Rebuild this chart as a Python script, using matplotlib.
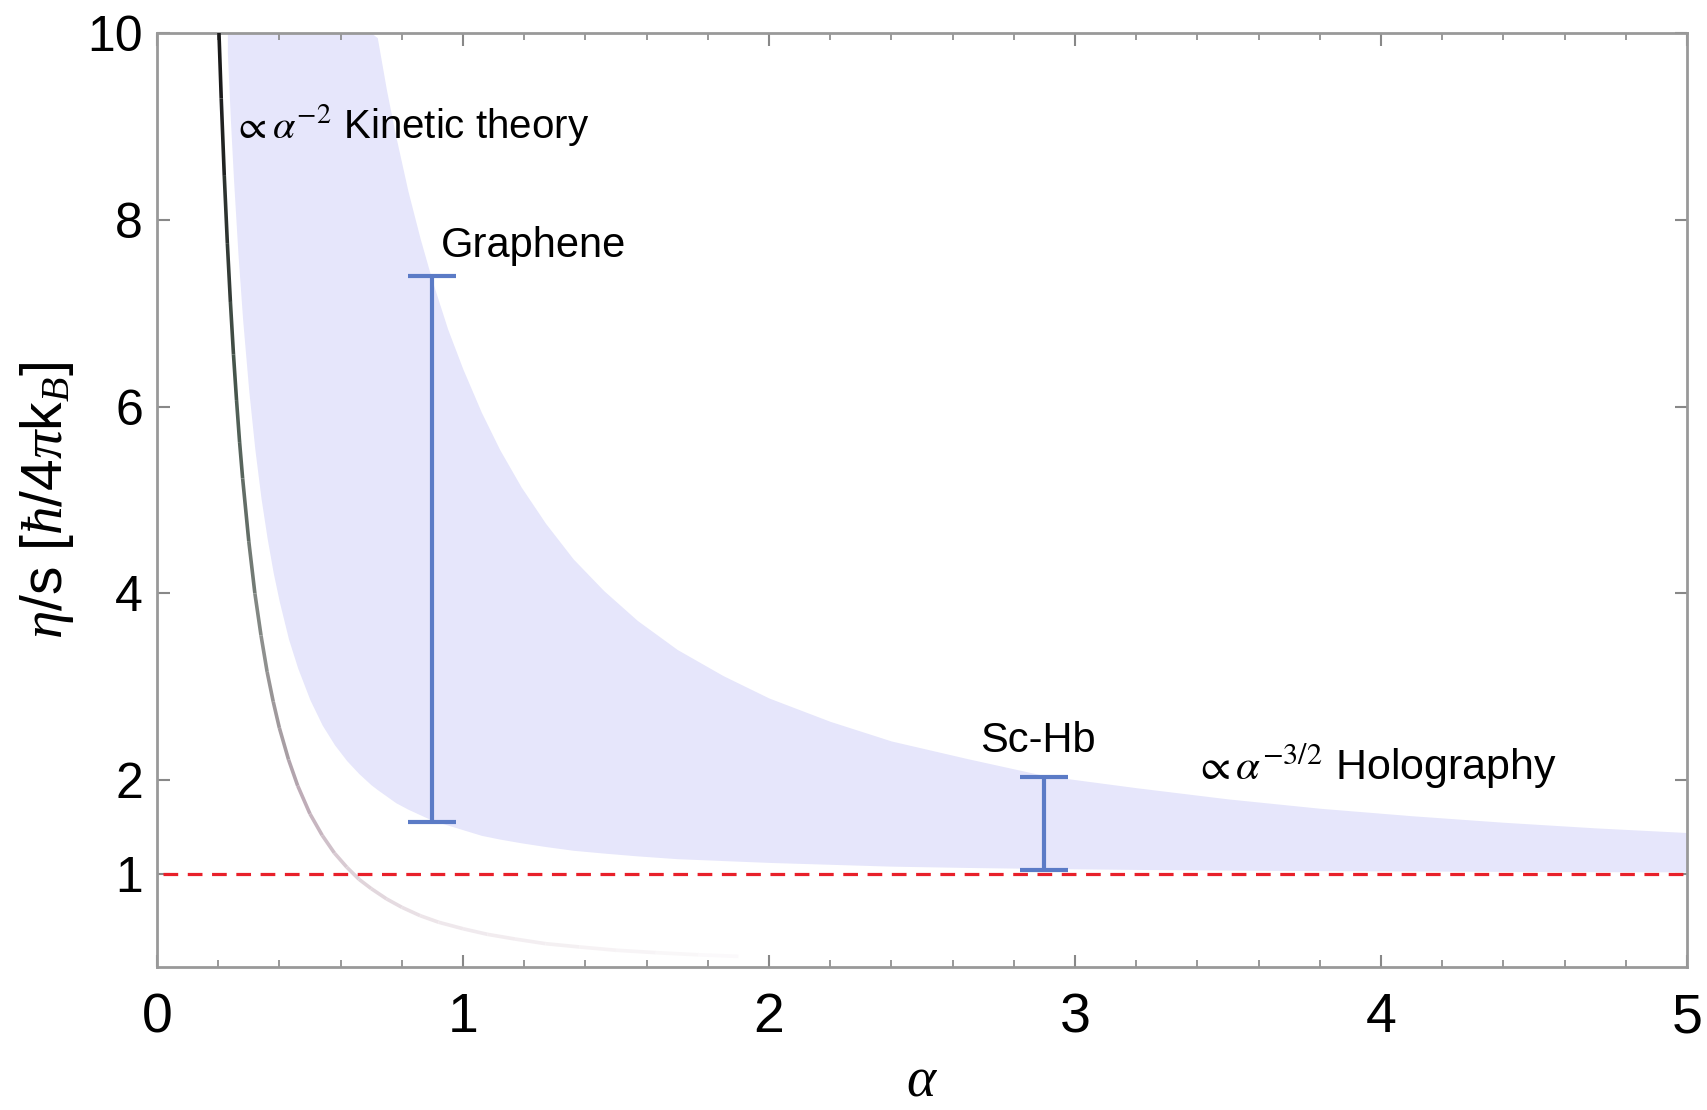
import numpy as np
import matplotlib
matplotlib.use("Agg")
import matplotlib.pyplot as plt
from matplotlib.collections import LineCollection
from matplotlib.colors import LinearSegmentedColormap

plt.rcParams["font.family"] = ["Liberation Sans", "DejaVu Sans"]
plt.rcParams["mathtext.fontset"] = "custom"
plt.rcParams["mathtext.rm"] = "Liberation Sans"
plt.rcParams["mathtext.it"] = "Liberation Serif:italic"
plt.rcParams["mathtext.sf"] = "Liberation Sans"

# kinetic theory curve (~ alpha^-2)
kin_alpha = [0.20, 0.21, 0.22, 0.23, 0.24, 0.25, 0.26, 0.27, 0.28, 0.30, 0.32,
             0.34, 0.36, 0.38, 0.40, 0.43, 0.46, 0.50, 0.54, 0.58, 0.62, 0.66,
             0.70, 0.75, 0.80, 0.86, 0.92, 1.00, 1.08, 1.17, 1.27, 1.38, 1.50,
             1.63, 1.77, 1.90]
kin_eta = [10.25, 9.30, 8.47, 7.75, 7.12, 6.56, 6.07, 5.62, 5.23, 4.56, 4.00,
           3.55, 3.16, 2.84, 2.56, 2.22, 1.94, 1.64, 1.41, 1.22, 1.07, 0.94,
           0.84, 0.73, 0.64, 0.55, 0.48, 0.41, 0.35, 0.30, 0.25, 0.215, 0.18,
           0.154, 0.131, 0.114]

# shaded band (holography range)
band_alpha = [0.23, 0.24, 0.25, 0.265, 0.28, 0.30, 0.32, 0.34, 0.36, 0.38, 0.40,
              0.43, 0.46, 0.50, 0.54, 0.58, 0.62, 0.66, 0.70, 0.72, 0.75, 0.78,
              0.82, 0.86, 0.90, 0.95, 1.00, 1.06, 1.12, 1.19, 1.27, 1.36, 1.46,
              1.57, 1.70, 1.85, 2.00, 2.20, 2.40, 2.65, 2.90, 3.20, 3.50, 3.80,
              4.10, 4.40, 4.70, 5.00]
band_low = [9.79, 9.07, 8.44, 7.62, 6.93, 6.17, 5.54, 5.02, 4.59, 4.22, 3.91,
            3.51, 3.20, 2.86, 2.59, 2.38, 2.21, 2.07, 1.95, 1.90, 1.83, 1.76,
            1.69, 1.63, 1.57, 1.52, 1.47, 1.41, 1.37, 1.33, 1.29, 1.25, 1.22,
            1.19, 1.16, 1.14, 1.12, 1.10, 1.08, 1.066, 1.055, 1.045, 1.038,
            1.032, 1.028, 1.024, 1.021, 1.019]
band_high = [10.0, 10.0, 10.0, 10.0, 10.0, 10.0, 10.0, 10.0, 10.0, 10.0, 10.0,
             10.0, 10.0, 10.0, 10.0, 10.0, 10.0, 10.0, 10.0, 9.95, 9.39, 8.90,
             8.31, 7.80, 7.34, 6.83, 6.40, 5.94, 5.54, 5.14, 4.75, 4.37, 4.03,
             3.71, 3.40, 3.12, 2.88, 2.63, 2.42, 2.23, 2.05, 1.92, 1.80, 1.70,
             1.62, 1.55, 1.49, 1.44]

# measured ranges
meas_names = ["Graphene", "Sc-Hb"]
meas_alpha = [0.90, 2.90]
meas_low = [1.55, 1.04]
meas_high = [7.40, 2.03]

bound_alpha = [0.02, 5.0]
bound_eta = [1.0, 1.0]

fig = plt.figure(figsize=(17.08, 11.10), dpi=100)
ax = fig.add_axes([0.0919, 0.1288, 0.8958, 0.8415])

ax.fill_between(band_alpha, band_low, band_high, color="#e6e6fb", lw=0, zorder=1)

# kinetic curve fades from black through grey-green and pink to white
pts = np.column_stack([kin_alpha, kin_eta]).reshape(-1, 1, 2)
segs = np.concatenate([pts[:-1], pts[1:]], axis=1)
cmap = LinearSegmentedColormap.from_list(
    "fade", [(0.0, "#1a1a1a"), (0.03, "#4a5a50"), (0.076, "#8a8d8a"),
             (0.147, "#bcaab5"), (0.235, "#dccfd6"), (0.41, "#efe8ec"),
             (1.0, "#fdfcfd")])
lc = LineCollection(segs, cmap=cmap, linewidth=2.6, zorder=3)
lc.set_array(np.array(kin_alpha[:-1]))
lc.set_clim(0.2, 1.9)
ax.add_collection(lc)

ax.plot(bound_alpha, bound_eta, color="#e8202a", lw=2.3,
        dashes=(4.6, 3.0), zorder=4)

for a, lo, hi in zip(meas_alpha, meas_low, meas_high):
    ax.errorbar([a], [(lo + hi) / 2], yerr=[[(hi - lo) / 2], [(hi - lo) / 2]],
                fmt="none", ecolor="#5b7bc6", elinewidth=3.0, capsize=17,
                capthick=3.0, zorder=5)

ax.text(0.25, 8.88, r"$\propto\alpha^{-2}$ Kinetic theory", fontsize=29,
        va="baseline", ha="left", math_fontfamily="stix")
ax.text(0.929, 7.72, meas_names[0], fontsize=30, va="center", ha="left")
ax.text(2.69, 2.42, meas_names[1], fontsize=30, va="center", ha="left")
ax.text(3.39, 2.0, r"$\propto\alpha^{-3/2}$ Holography", fontsize=31,
        va="baseline", ha="left", math_fontfamily="stix")

ax.set_xlim(0, 5)
ax.set_ylim(0, 10)
ax.set_xticks([0, 1, 2, 3, 4, 5])
ax.set_xticks(np.arange(0, 5.01, 0.2), minor=True)
ax.set_yticks([1, 2, 4, 6, 8, 10])
ax.tick_params(axis="both", which="both", direction="in", top=True,
               right=True, color="#888888")
ax.tick_params(which="major", length=9, width=1.5)
ax.tick_params(which="minor", length=5, width=1.2)
ax.tick_params(axis="x", labelsize=40, pad=18)
ax.tick_params(axis="y", labelsize=36, pad=10)
for s in ax.spines.values():
    s.set_color("#999999")
    s.set_linewidth(2)

ax.set_xlabel(r"$\alpha$", fontsize=40, labelpad=8)
ax.set_ylabel(r"$\eta$/s [$\hbar$/4$\pi$k$_B$]", fontsize=41, labelpad=8)

fig.savefig("out.png", dpi=100)
